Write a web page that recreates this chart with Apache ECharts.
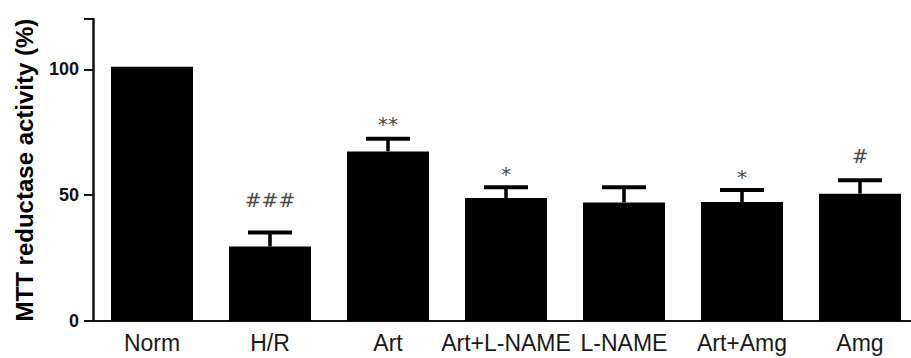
<!DOCTYPE html>
<html>
<head>
<meta charset="utf-8">
<script src="https://cdn.jsdelivr.net/npm/echarts@6/dist/echarts.min.js"></script>
<style>
html,body{margin:0;padding:0;background:#fff;}
#chart{width:911px;height:358px;}
</style>
</head>
<body>
<div id="chart"></div>
<script>
// ---- data ----
const categories = ['Norm', 'H/R', 'Art', 'Art+L-NAME', 'L-NAME', 'Art+Amg', 'Amg'];
const means = [101, 29.6, 67.4, 48.9, 47.1, 47.3, 50.6];
const sems = [0, 5.6, 5.0, 4.2, 6.0, 4.8, 5.3];
const marks = ['', '###', '**', '*', '', '*', '#'];
const yTicks = [0, 50, 100];
const yTitle = 'MTT reductase activity (%)';

// ---- style ----
const markOffset = { '*': 13, '**': 15, '#': 24, '###': 32 };

const chart = echarts.init(document.getElementById('chart'), null, { renderer: 'svg' });

const errData = categories.map((c, i) => [i, means[i], sems[i]]);
const markData = categories.map((c, i) => [i, means[i] + sems[i]]);

chart.setOption({
  animation: false,
  grid: { left: 93, top: 19, right: -8, bottom: 37, containLabel: false, outerBoundsMode: 'none' },
  xAxis: {
    type: 'category',
    data: categories,
    axisLine: { lineStyle: { color: '#111', width: 2 } },
    axisTick: { alignWithLabel: true, length: 9, lineStyle: { color: '#111', width: 2 } },
    axisLabel: { interval: 0, hideOverlap: false, color: '#1a1a1a', fontSize: 23, fontFamily: 'Liberation Sans, Arial', margin: 10 }
  },
  yAxis: {
    type: 'value',
    min: 0, max: 120, interval: 50,
    name: yTitle,
    nameLocation: 'middle',
    nameRotate: 90,
    nameGap: 57,
    nameTextStyle: { color: '#000', fontSize: 24, fontWeight: 'bold', fontFamily: 'Liberation Sans, Arial' },
    splitLine: { show: false },
    axisLine: { show: true, lineStyle: { color: '#111', width: 2.5 } },
    axisTick: { show: true, length: 9, lineStyle: { color: '#111', width: 2 } },
    axisLabel: {
      color: '#111', fontSize: 18, fontWeight: 'bold', fontFamily: 'Liberation Sans, Arial', margin: 14,
      formatter: v => (yTicks.indexOf(v) >= 0 ? String(v) : '')
    }
  },
  series: [
    {
      type: 'bar',
      data: means,
      barWidth: 82,
      itemStyle: { color: '#000' }
    },
    {
      type: 'custom',
      data: errData,
      z: 3,
      renderItem: function (params, api) {
        const i = api.value(0), m = api.value(1), e = api.value(2);
        if (!e) return null;
        const base = api.coord([i, m]);
        const top = api.coord([i, m + e]);
        const half = 22;
        return {
          type: 'group',
          children: [
            { type: 'line', shape: { x1: base[0], y1: base[1], x2: top[0], y2: top[1] }, style: { stroke: '#000', lineWidth: 3.5 } },
            { type: 'line', shape: { x1: top[0] - half, y1: top[1], x2: top[0] + half, y2: top[1] }, style: { stroke: '#000', lineWidth: 4 } }
          ]
        };
      }
    },
    {
      type: 'custom',
      data: markData,
      z: 4,
      renderItem: function (params, api) {
        const i = api.value(0), v = api.value(1);
        const t = marks[params.dataIndex];
        if (!t) return null;
        const p = api.coord([i, v]);
        return {
          type: 'text',
          x: p[0], y: p[1] - (markOffset[t] || 16),
          style: { text: t, fill: '#4a4a4a', fontSize: 20, fontFamily: 'DejaVu Sans', align: 'center', verticalAlign: 'middle' }
        };
      }
    }
  ]
});
</script>
</body>
</html>
